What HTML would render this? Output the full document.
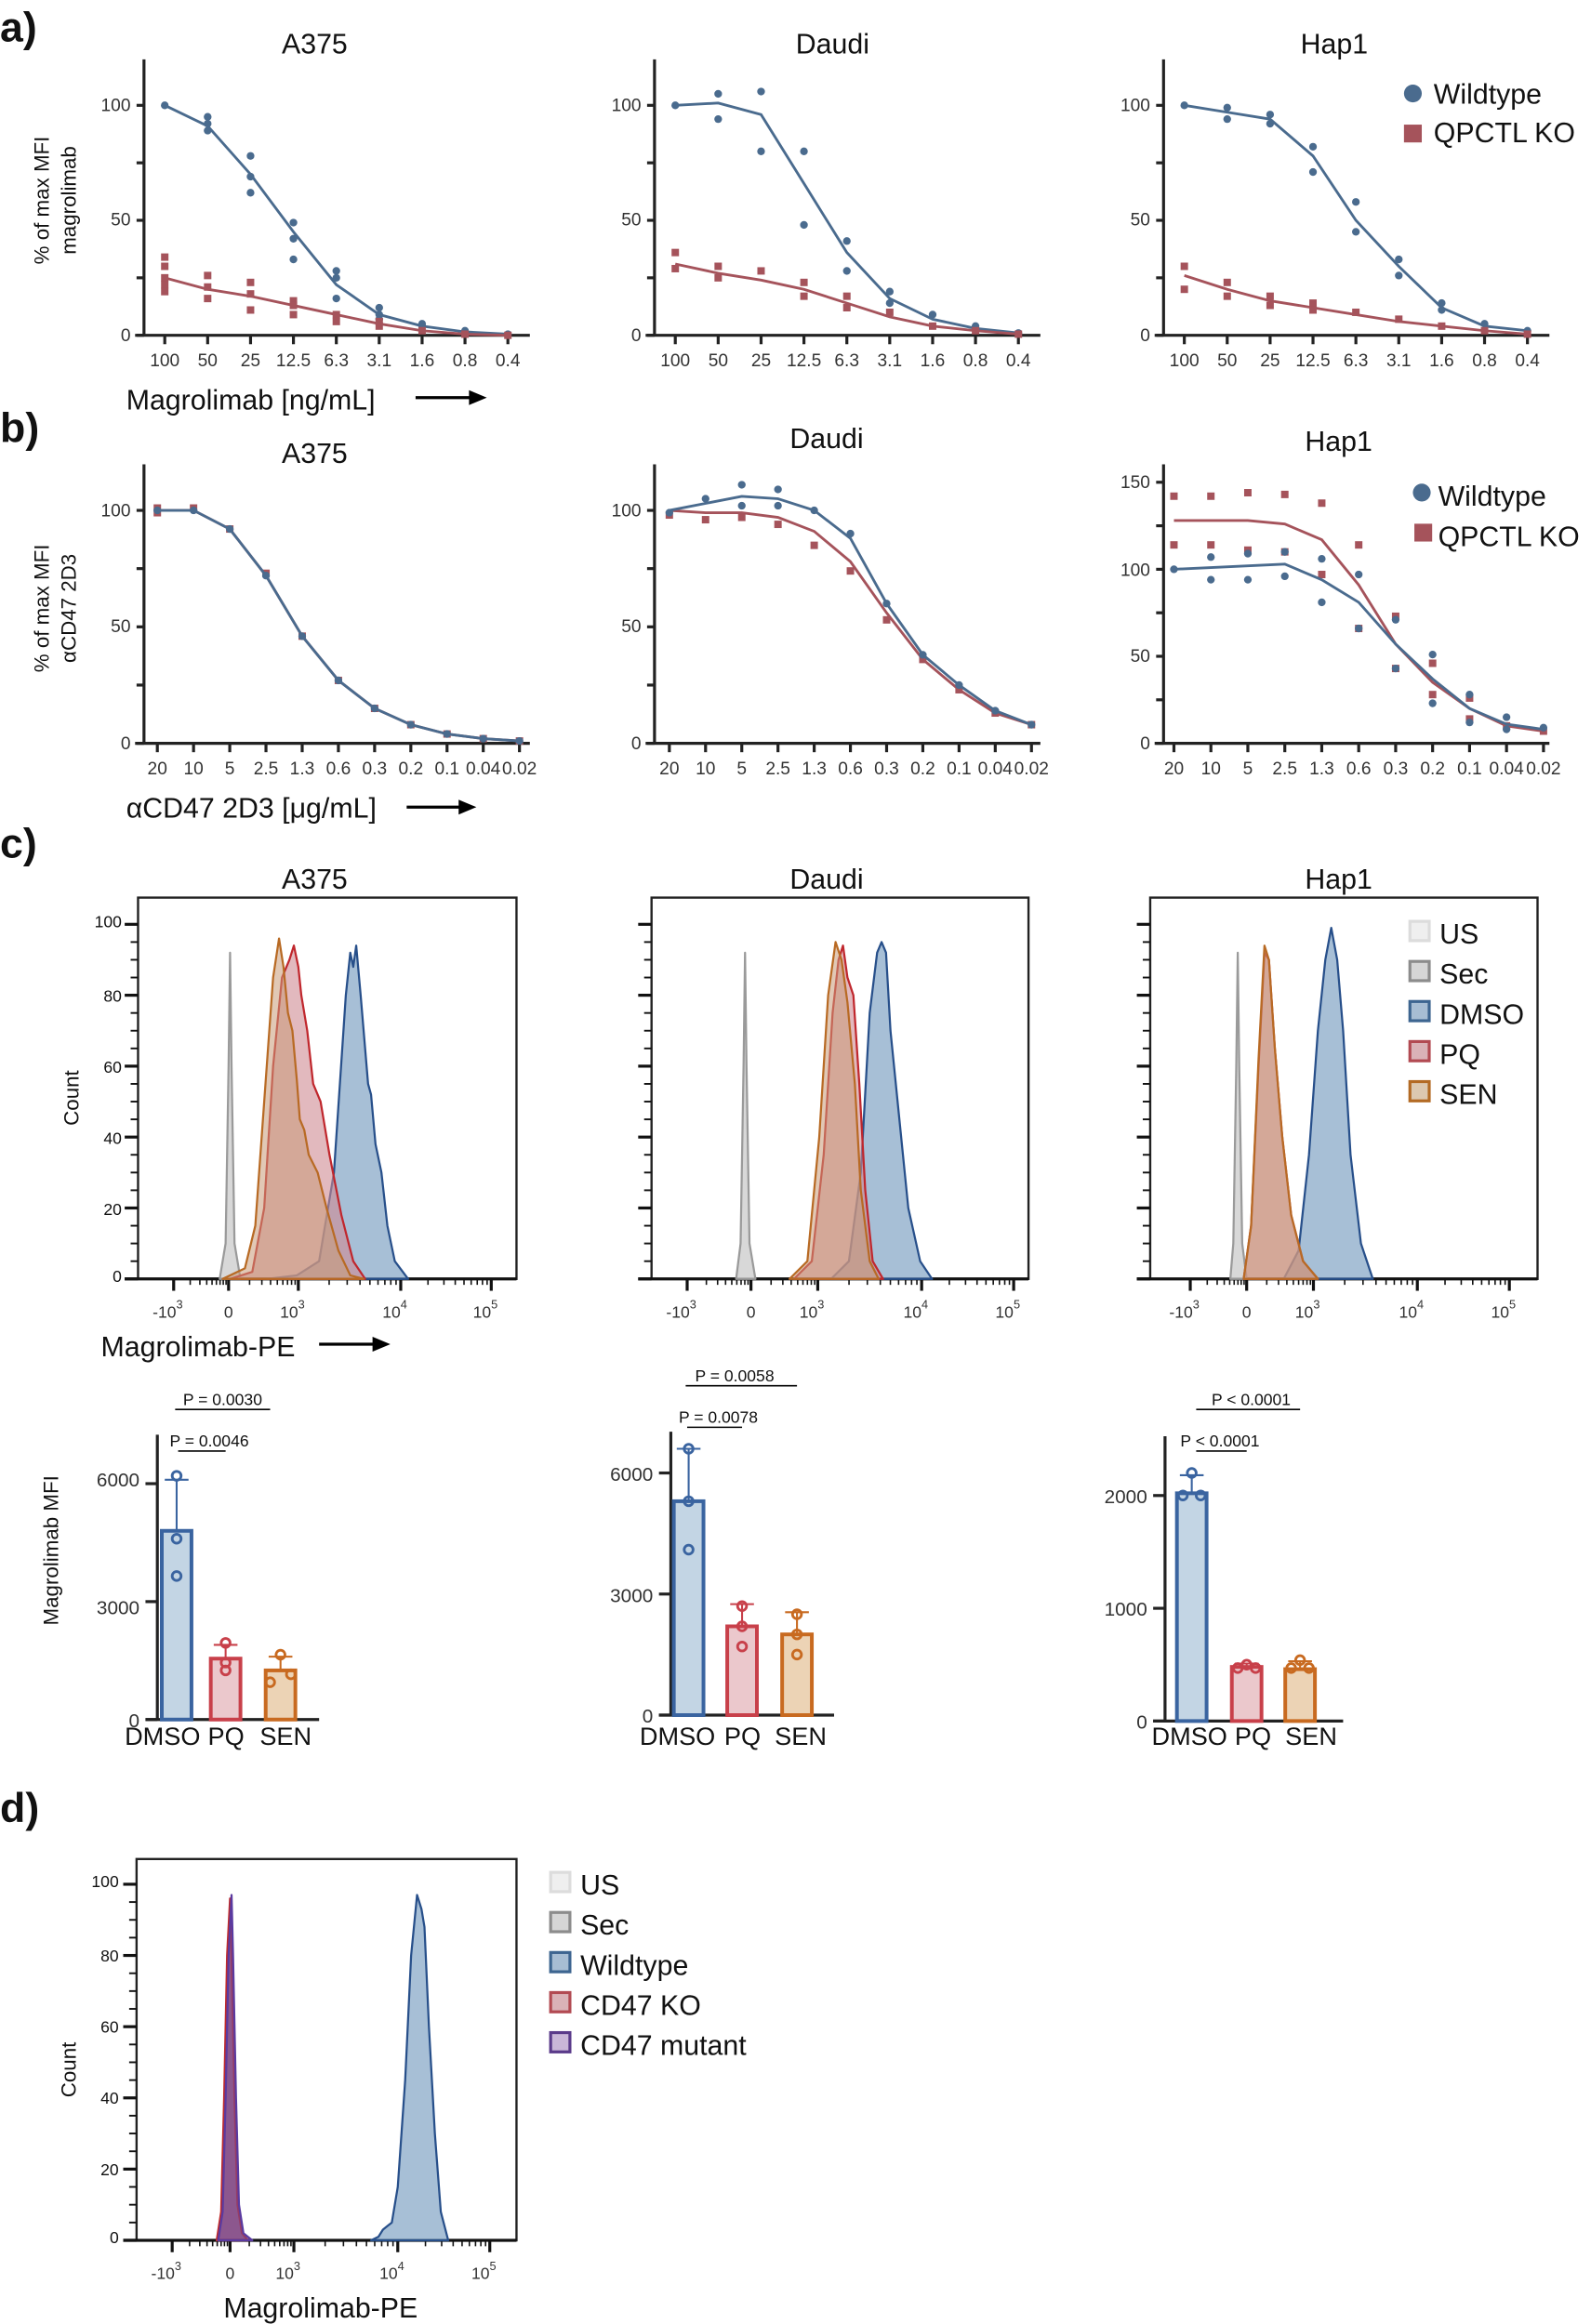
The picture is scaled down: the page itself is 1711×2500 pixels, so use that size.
<!DOCTYPE html>
<html><head><meta charset="utf-8"><style>
html,body{margin:0;padding:0;background:#fff}
svg{display:block}
text{font-family:"Liberation Sans",Arial,sans-serif;fill:#111}
.t{font-size:19px;text-anchor:middle}
.tk{font-size:12px;fill:#333}
.tkr{font-size:12px;fill:#333;text-anchor:end}
.tkc{font-size:12px;fill:#333;text-anchor:middle}
.hk{font-size:11px;fill:#111;text-anchor:end}
.lab{font-size:28px;font-weight:bold}
.ax{stroke:#222;stroke-width:2;fill:none}
.lg{font-size:19px}
.bl{font-size:17px}
.pv{font-size:11px;text-anchor:middle}
</style></head><body>
<svg id="s" width="1711" height="2500" viewBox="0 0 1072 1566.4" xmlns="http://www.w3.org/2000/svg">
<!-- a -->
<text x="0" y="28" class="lab">a)</text>
<text x="212" y="36" class="t">A375</text>
<text x="561" y="36" class="t">Daudi</text>
<text x="899" y="36" class="t">Hap1</text>
<text transform="translate(33,135) rotate(-90)" style="font-size:14px;text-anchor:middle">% of max MFI</text>
<text transform="translate(51,135) rotate(-90)" style="font-size:14px;text-anchor:middle">magrolimab</text>
<text x="85" y="276" style="font-size:19px">Magrolimab [ng/mL]</text>
<line x1="280" y1="268" x2="318" y2="268" stroke="#000" stroke-width="2"/><polygon points="316,263 328,268 316,273" fill="#000"/>
<circle cx="952" cy="63" r="6" fill="#4a6b8e"/><text x="966" y="70" class="lg">Wildtype</text>
<rect x="946" y="84" width="12" height="12" fill="#a5535b"/><text x="966" y="96" class="lg">QPCTL KO</text>
<!-- b -->
<text x="0" y="298" class="lab">b)</text>
<text x="212" y="312" class="t">A375</text>
<text x="557" y="302" class="t">Daudi</text>
<text x="902" y="304" class="t">Hap1</text>
<text transform="translate(33,410) rotate(-90)" style="font-size:14px;text-anchor:middle">% of max MFI</text>
<text transform="translate(51,410) rotate(-90)" style="font-size:14px;text-anchor:middle">αCD47 2D3</text>
<text x="85" y="551" style="font-size:19px">αCD47 2D3 [μg/mL]</text>
<line x1="274" y1="544" x2="310" y2="544" stroke="#000" stroke-width="2"/><polygon points="309,539 321,544 309,549" fill="#000"/>
<circle cx="958" cy="332" r="6" fill="#4a6b8e"/><text x="969" y="341" class="lg">Wildtype</text>
<rect x="953" y="353" width="12" height="12" fill="#a5535b"/><text x="969" y="368" class="lg">QPCTL KO</text>
<!-- c -->
<text x="0" y="578" class="lab">c)</text>
<text x="212" y="599" class="t">A375</text>
<text x="557" y="599" class="t">Daudi</text>
<text x="902" y="599" class="t">Hap1</text>
<text transform="translate(53,740) rotate(-90)" style="font-size:14px;text-anchor:middle">Count</text>
<text x="68" y="914" style="font-size:19px">Magrolimab-PE</text>
<line x1="215" y1="906" x2="252" y2="906" stroke="#000" stroke-width="2"/><polygon points="251,901 263,906 251,911" fill="#000"/>
<text x="970" y="636" class="lg">US</text><text x="970" y="663" class="lg">Sec</text><text x="970" y="690" class="lg">DMSO</text><text x="970" y="717" class="lg">PQ</text><text x="970" y="744" class="lg">SEN</text>
<!-- bars text -->
<text transform="translate(39,1045) rotate(-90)" style="font-size:14px;text-anchor:middle">Magrolimab MFI</text>
<text x="150" y="947" class="pv">P = 0.0030</text><line x1="118" y1="950" x2="182" y2="950" stroke="#000"/>
<text x="141" y="975" class="pv">P = 0.0046</text><line x1="120" y1="978" x2="152" y2="978" stroke="#000"/>
<text x="495" y="931" class="pv">P = 0.0058</text><line x1="462" y1="934" x2="537" y2="934" stroke="#000"/>
<text x="484" y="959" class="pv">P = 0.0078</text><line x1="463" y1="962" x2="500" y2="962" stroke="#000"/>
<text x="843" y="947" class="pv">P &lt; 0.0001</text><line x1="806" y1="950" x2="876" y2="950" stroke="#000"/>
<text x="822" y="975" class="pv">P &lt; 0.0001</text><line x1="806" y1="978" x2="840" y2="978" stroke="#000"/>
<text x="84" y="1176" class="bl">DMSO</text><text x="140" y="1176" class="bl">PQ</text><text x="175" y="1176" class="bl">SEN</text>
<text x="431" y="1176" class="bl">DMSO</text><text x="488" y="1176" class="bl">PQ</text><text x="522" y="1176" class="bl">SEN</text>
<text x="776" y="1176" class="bl">DMSO</text><text x="832" y="1176" class="bl">PQ</text><text x="866" y="1176" class="bl">SEN</text>
<text x="94" y="1002" class="tkr" style="font-size:13px">6000</text><text x="94" y="1088" class="tkr" style="font-size:13px">3000</text><text x="94" y="1164" class="tkr" style="font-size:13px">0</text>
<text x="440" y="998" class="tkr" style="font-size:13px">6000</text><text x="440" y="1080" class="tkr" style="font-size:13px">3000</text><text x="440" y="1161" class="tkr" style="font-size:13px">0</text>
<text x="773" y="1013" class="tkr" style="font-size:13px">2000</text><text x="773" y="1089" class="tkr" style="font-size:13px">1000</text><text x="773" y="1165" class="tkr" style="font-size:13px">0</text>
<!-- d -->
<text x="0" y="1228" class="lab">d)</text>
<text transform="translate(51,1395) rotate(-90)" style="font-size:14px;text-anchor:middle">Count</text>
<text x="216" y="1562" class="t">Magrolimab-PE</text>
<text x="391" y="1277" class="lg">US</text><text x="391" y="1304" class="lg">Sec</text><text x="391" y="1331" class="lg">Wildtype</text><text x="391" y="1358" class="lg">CD47 KO</text><text x="391" y="1385" class="lg">CD47 mutant</text>
<g id="txt">
<text x="88" y="75" class="tkr">100</text><text x="88" y="152" class="tkr">50</text><text x="88" y="230" class="tkr">0</text>
<text x="432" y="75" class="tkr">100</text><text x="432" y="152" class="tkr">50</text><text x="432" y="230" class="tkr">0</text>
<text x="775" y="75" class="tkr">100</text><text x="775" y="152" class="tkr">50</text><text x="775" y="230" class="tkr">0</text>
<text x="88" y="348" class="tkr">100</text><text x="88" y="426" class="tkr">50</text><text x="88" y="505" class="tkr">0</text>
<text x="432" y="348" class="tkr">100</text><text x="432" y="426" class="tkr">50</text><text x="432" y="505" class="tkr">0</text>
<text x="775" y="329" class="tkr">150</text><text x="775" y="388" class="tkr">100</text><text x="775" y="446" class="tkr">50</text><text x="775" y="505" class="tkr">0</text>
<text x="82" y="625" class="hk">100</text><text x="82" y="675" class="hk">80</text><text x="82" y="723" class="hk">60</text><text x="82" y="771" class="hk">40</text><text x="82" y="819" class="hk">20</text><text x="82" y="864" class="hk">0</text>
<text x="80" y="1272" class="hk">100</text><text x="80" y="1322" class="hk">80</text><text x="80" y="1370" class="hk">60</text><text x="80" y="1418" class="hk">40</text><text x="80" y="1466" class="hk">20</text><text x="80" y="1512" class="hk">0</text>
</g>
<g id="g"></g>
</svg>
<script>
var NS="http://www.w3.org/2000/svg",G=document.getElementById("g");
function el(t,a,p){var e=document.createElementNS(NS,t);for(var k in a)e.setAttribute(k,a[k]);(p||G).appendChild(e);return e}
function tx(x,y,s,cls,extra){var e=el("text",Object.assign({x:x,y:y,"class":cls},extra||{}));e.textContent=s;return e}
var BL="#4a6b8e",RD="#a5535b";
function dr(ax,top,y0,k,x0,step,labels,ymaxTick,series,xend){
  el("line",{x1:ax,y1:top,x2:ax,y2:y0,"class":"ax"});
  el("line",{x1:ax-6,y1:y0,x2:xend,y2:y0,"class":"ax"});
  ymaxTick.forEach(function(v){el("line",{x1:ax-5,y1:y0-v*k,x2:ax,y2:y0-v*k,"class":"ax","stroke-width":1.5})});
  labels.forEach(function(l,i){var x=x0+i*step;el("line",{x1:x,y1:y0,x2:x,y2:y0+6,"class":"ax"});tx(x,y0+21,l,"tkc")});
  series.forEach(function(s){
    var pts=s.v.map(function(v,i){return (x0+i*step)+","+(y0-v*k)}).join(" ");
    el("polyline",{points:pts,fill:"none",stroke:s.c,"stroke-width":1.8});
    s.v.forEach(function(v,i){var x=x0+i*step;(s.r[i]||[0]).forEach(function(o){var y=y0-(v+o)*k;
      if(s.sq)el("rect",{x:x-2.5,y:y-2.5,width:5,height:5,fill:s.c});else el("circle",{cx:x,cy:y,r:2.6,fill:s.c});});});
  });
}
var L1=["100","50","25","12.5","6.3","3.1","1.6","0.8","0.4"];
var L2=["20","10","5","2.5","1.3","0.6","0.3","0.2","0.1","0.04","0.02"];
var T1=[0,25,50,75,100];
dr(97,40,226,1.55,111,28.9,L1,T1,[
 {c:BL,v:[100,91,70,45,22,9,4,1.5,0.5],r:[[0],[4,1,-2],[8,-1,-8],[4,-3,-12],[6,3,-6],[3,0,-2],[1,0],[0.5],[0]]},
 {c:RD,sq:1,v:[25,20,17,13,9,5,2,0.5,0],r:[[9,5,0,-3,-6],[6,1,-4],[6,1,-6],[2,0,-4],[0,-3],[1,-1],[0],[0],[0]]}],357);
dr(441,40,226,1.55,455,28.9,L1,T1,[
 {c:BL,v:[100,101,96,66,36,16,7,3,1],r:[[0],[4,-7],[10,-16],[14,-18],[5,-8],[3,-2],[2],[1],[0]]},
 {c:RD,sq:1,v:[31,27,24,20,14,8,4,2,0.5],r:[[5,-2],[3,-2],[4],[3,-3],[3,-2],[2],[0],[0],[0]]}],701);
dr(784,40,226,1.55,798,28.9,L1,T1,[
 {c:BL,v:[100,97,94,78,50,30,12,4,2],r:[[0],[2,-3],[2,-2],[4,-7],[8,-5],[3,-4],[2,-1],[1],[0]]},
 {c:RD,sq:1,v:[26,20,15,12,9,6,4,2,0.5],r:[[4,-6],[3,-3],[2,-2],[2,-1],[1],[1],[0],[0],[0]]}],1044);
var T2=[0,25,50,75,100];
var A=[100,100,92,72,46,27,15,8,4,2,1];
dr(97,313,501,1.57,106,24.4,L2,T2,[
 {c:RD,sq:1,v:A,r:[[1,-1],[1],[0],[1],[0],[0],[0],[0],[0],[0],[0]]},
 {c:BL,v:A,r:[[0],[0],[0],[0],[0],[0],[0],[0],[0],[0],[0]]}],357);
dr(441,313,501,1.57,451,24.4,L2,T2,[
 {c:RD,sq:1,v:[100,99,99,97,91,78,56,36,23,13,8],r:[[-2],[-3],[-2],[-3],[-6],[-4],[-3],[0],[0],[0],[0]]},
 {c:BL,v:[100,103,106,105,100,88,60,38,25,14,8],r:[[-1],[2],[5,-4],[4,-3],[0],[2],[0],[0],[0],[0],[0]]}],701);
dr(784,313,501,1.173,791,24.9,L2,[0,25,50,75,100,125,150],[
 {c:RD,sq:1,v:[128,128,128,126,117,91,57,35,20,10,7],r:[[14,-14],[14,-14],[16,-17],[17,-16],[21,-20],[23,-25],[16,-14],[11,-7],[6,-6],[0],[0]]},
 {c:BL,v:[100,101,102,103,94,81,57,37,20,11,8],r:[[0],[6,-7],[7,-8],[7,-7],[12,-13],[16,-15],[14,-14],[14,-14],[8,-8],[4,-3],[1]]}],1044);
function box(x1,x2,top,base,k,xl,labels){
  el("rect",{x:x1,y:top,width:x2-x1,height:base-top,fill:"none",stroke:"#222","stroke-width":1.5});
  for(var v=0;v<=100;v+=5){var y=base-v*k;el("line",{x1:x1-(v%20==0?9:5),y1:y,x2:x1,y2:y,stroke:"#111","stroke-width":v%20==0?2:1.2})}
  el("line",{x1:x1-9,y1:base,x2:x2,y2:base,stroke:"#111","stroke-width":2});
  labels.forEach(function(p){el("line",{x1:p[0],y1:base,x2:p[0],y2:base+8,stroke:"#111","stroke-width":2});
    var t=tx(p[0]-(p[1]?4:0),base+26,p[1]?p[1]:"0","tkc",{style:"font-size:11px"});
    if(p[1]){var s=document.createElementNS(NS,"tspan");s.setAttribute("dy","-6");s.setAttribute("style","font-size:8px");s.textContent=p[2];t.appendChild(s);}});
  for(var i=0;i<labels.length-1;i++){var a=labels[i][0],b=labels[i+1][0];for(var j=1;j<9;j++){var x=a+(b-a)*Math.log10(j+1);el("line",{x1:x,y1:base,x2:x,y2:base+4,stroke:"#111"})}}
}
function hist(pts,base,k,fill,stroke,op){
  var d="M"+pts[0][0]+","+base+" "+pts.map(function(p){return "L"+p[0]+","+(base-p[1]*k)}).join(" ")+" L"+pts[pts.length-1][0]+","+base+"Z";
  el("path",{d:d,fill:fill,"fill-opacity":op,stroke:stroke,"stroke-width":1.4,"stroke-linejoin":"round"});
}
var GF="#d4d4d4",GS="#9a9a9a",DF="#8aaac8",DS="#274f8a",PF="#cf8a92",PS="#c0272d",SF="#c99a78",SS="#b86a24";
function xl(a,b,c,d,e){return [[a,"-10","3"],[b,""],[c,"10","3"],[d,"10","4"],[e,"10","5"]]}
box(93,348,605,862,2.39,0,xl(117,154,201,270,331));
hist([[148,0],[152,10],[154,60],[155,92],[156,60],[158,10],[162,0]],862,2.39,GF,GS,0.9);
hist([[180,0],[200,1],[215,5],[225,30],[229,55],[233,80],[236,92],[238,88],[240,94],[243,80],[246,65],[248,55],[250,52],[253,38],[257,30],[261,15],[266,5],[275,0]],862,2.39,DF,DS,0.75);
hist([[155,0],[170,2],[178,20],[184,60],[190,85],[195,90],[198,94],[201,88],[203,80],[207,70],[211,55],[216,50],[222,35],[230,18],[238,5],[246,0]],862,2.39,PF,PS,0.6);
hist([[150,0],[165,3],[172,15],[178,50],[184,85],[188,96],[191,88],[194,75],[197,70],[200,56],[202,45],[205,42],[208,35],[214,30],[220,20],[228,8],[236,1],[245,0]],862,2.39,SF,SS,0.55);
box(439,693,605,862,2.39,0,xl(463,506,551,621,683));
hist([[496,0],[499,10],[501,60],[502,92],[503,60],[505,10],[509,0]],862,2.39,GF,GS,0.9);
hist([[560,0],[572,5],[580,30],[586,75],[591,92],[594,95],[597,92],[600,70],[606,45],[612,20],[620,5],[628,0]],862,2.39,DF,DS,0.75);
hist([[535,0],[547,5],[555,35],[561,75],[565,90],[568,94],[571,85],[575,80],[579,55],[583,25],[588,5],[595,0]],862,2.39,PF,PS,0.6);
hist([[532,0],[544,5],[552,40],[558,80],[563,95],[567,90],[571,78],[576,55],[580,25],[586,5],[592,0]],862,2.39,SF,SS,0.55);
box(775,1036,605,862,2.39,0,xl(802,840,885,955,1017));
hist([[829,0],[831,10],[833,60],[834,92],[835,60],[837,10],[840,0]],862,2.39,GF,GS,0.9);
hist([[865,0],[875,8],[882,35],[888,70],[893,90],[897,99],[901,90],[905,70],[910,35],[917,10],[925,0]],862,2.39,DF,DS,0.75);
hist([[838,0],[843,15],[848,60],[852,92],[855,90],[859,65],[864,40],[870,18],[878,5],[888,0]],862,2.39,PF,PS,0.6);
hist([[838,0],[843,15],[848,62],[852,94],[855,90],[859,65],[864,40],[870,18],[878,5],[888,0]],862,2.39,SF,SS,0.55);
[["#efefef","#dcdcdc"],["#d6d6d6","#8c8c8c"],["#a7bdd3","#3d6590"],["#dab2b7","#b24a52"],["#dcc8b0","#b36a24"]].forEach(function(c,i){el("rect",{x:950,y:621+i*27,width:13,height:13,fill:c[0],stroke:c[1],"stroke-width":2})});
[["#efefef","#dcdcdc"],["#d6d6d6","#8c8c8c"],["#a7bdd3","#3d6590"],["#dab2b7","#b24a52"],["#c9b6d8","#5a3a8a"]].forEach(function(c,i){el("rect",{x:371,y:1262+i*27,width:13,height:13,fill:c[0],stroke:c[1],"stroke-width":2})});
box(92,348,1253,1510,2.4,0,xl(116,155,198,268,330));
hist([[250,0],[255,1],[258,3],[261,4],[264,5],[268,15],[273,45],[277,80],[281,97],[284,93],[286,88],[289,60],[293,30],[297,8],[302,0]],1510,2.4,DF,DS,0.75);
hist([[146,0],[149,8],[151,40],[153,80],[155,96],[156,80],[158,40],[160,10],[163,2],[167,0]],1510,2.4,"#8a3a6a","#c02a2a",0.75);
hist([[147,0],[150,8],[152,40],[154,80],[156,97],[157,80],[159,40],[161,10],[164,2],[170,0]],1510,2.4,"#7a4a8e","#5a3aa0",0.6);
function bars(ax,top,y0,k,xend,ticks,b){
  el("line",{x1:ax,y1:top,x2:ax,y2:y0,"class":"ax"});
  el("line",{x1:ax-8,y1:y0,x2:xend,y2:y0,"class":"ax"});
  ticks.forEach(function(v){el("line",{x1:ax-8,y1:y0-v*k,x2:ax,y2:y0-v*k,"class":"ax"})});
  b.forEach(function(q){
    el("rect",{x:q.x-10,y:y0-q.v*k,width:20,height:q.v*k,fill:q.f,stroke:q.s,"stroke-width":2.5});
    el("line",{x1:q.x,y1:y0-q.v*k,x2:q.x,y2:y0-q.e*k,stroke:q.s,"stroke-width":1.3});
    el("line",{x1:q.x-8,y1:y0-q.e*k,x2:q.x+8,y2:y0-q.e*k,stroke:q.s,"stroke-width":1.3});
    q.p.forEach(function(p){el("circle",{cx:q.x+p[0],cy:y0-p[1]*k,r:3,fill:"none",stroke:q.s,"stroke-width":1.8})});
  });
}
var BF="#c3d5e4",BS="#3a64a0",RF="#ebc8cc",RS="#c8404a",OF="#ecd3b5",OS="#c86a20";
bars(106,967,1159,0.0265,215,[0,3000,6000],[
 {x:119,v:4800,e:6100,f:BF,s:BS,p:[[0,6200],[0,4600],[0,3650]]},
 {x:152,v:1550,e:1900,f:RF,s:RS,p:[[0,1950],[0,1450],[0,1250]]},
 {x:189,v:1250,e:1600,f:OF,s:OS,p:[[0,1650],[-7,950],[7,1150]]}]);
bars(452,965,1156,0.0272,562,[0,3000,6000],[
 {x:464,v:5300,e:6600,f:BF,s:BS,p:[[0,6600],[0,5300],[0,4100]]},
 {x:500,v:2200,e:2750,f:RF,s:RS,p:[[0,2700],[0,2200],[0,1700]]},
 {x:537,v:2000,e:2550,f:OF,s:OS,p:[[0,2500],[0,2000],[0,1500]]}]);
bars(785,968,1160,0.076,905,[0,1000,2000],[
 {x:803,v:2020,e:2180,f:BF,s:BS,p:[[0,2200],[-6,2000],[6,2000]]},
 {x:840,v:480,e:510,f:RF,s:RS,p:[[-6,470],[0,500],[6,470]]},
 {x:876,v:460,e:530,f:OF,s:OS,p:[[0,540],[-6,470],[6,470]]}]);
</script>
</body></html>
